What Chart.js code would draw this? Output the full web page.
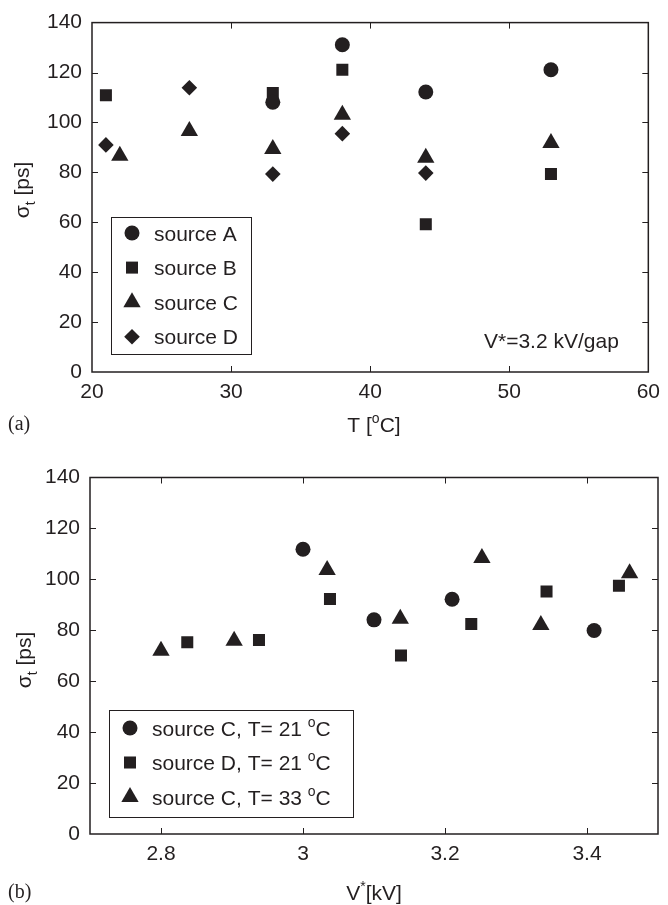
<!DOCTYPE html>
<html>
<head>
<meta charset="utf-8">
<script src="https://cdn.jsdelivr.net/npm/chart.js@4"></script>
<style>
  body { margin: 0; background: #fff; }
  #wrapA { position: absolute; left: 0; top: 0; width: 668px; height: 440px; }
  #wrapB { position: absolute; left: 0; top: 440px; width: 668px; height: 465px; }
</style>
</head>
<body>
<div id="wrapA"><canvas id="chartA"></canvas></div>
<div id="wrapB"><canvas id="chartB"></canvas></div>
<script>
// (a) sigma_t vs temperature, V* = 3.2 kV/gap
const tempA = [33, 38, 44, 53];
const sigmaA = [108.1, 131.1, 112.2, 121.1];
const tempB = [21, 33, 38, 44, 53];
const sigmaB = [110.9, 111.8, 121.1, 59.2, 79.3];
const tempC = [22, 27, 33, 38, 44, 53];
const sigmaC = [86.6, 96.6, 89.4, 103.1, 85.8, 91.8];
const tempD = [21, 27, 33, 38, 44];
const sigmaD = [91.0, 113.9, 79.3, 95.5, 79.7];
const labelsA = ['source A', 'source B', 'source C', 'source D'];
const xTicksA = [20, 30, 40, 50, 60];

// (b) sigma_t vs V*
const voltC21 = [3.0, 3.1, 3.21, 3.41];
const sigmaC21 = [111.8, 84.1, 92.2, 79.9];
const voltD21 = [2.837, 2.938, 3.038, 3.138, 3.237, 3.343, 3.445];
const sigmaD21 = [75.3, 76.2, 92.3, 70.1, 82.5, 95.2, 97.5];
const voltC33 = [2.8, 2.903, 3.034, 3.137, 3.252, 3.335, 3.46];
const sigmaC33 = [72.0, 75.9, 103.7, 84.5, 108.4, 82.1, 102.4];
const labelsB = ['source C, T= 21 ºC', 'source D, T= 21 ºC', 'source C, T= 33 ºC'];
const xTicksB = [2.8, 3, 3.2, 3.4];

const yTicks = [0, 20, 40, 60, 80, 100, 120, 140];

const INK = '#231f20';
const FONT = '"Liberation Sans", Arial, sans-serif';
const FS = 21;

const markers = {
    circle: { pointStyle: 'circle', pointRadius: 7.5 },
    rect: { pointStyle: 'rect', pointRadius: 8.5 },
    triangle: { pointStyle: 'triangle', pointRadius: 10 },
    diamond: { pointStyle: 'rectRot', pointRadius: 7.8 }
};

const toPoints = (xs, ys) => xs.map((x, i) => ({ x: x, y: ys[i] }));

const makeSet = (label, xs, ys, m) => ({
    label: label,
    data: toPoints(xs, ys),
    pointStyle: m.pointStyle,
    pointRadius: m.pointRadius,
    pointBackgroundColor: INK,
    pointBorderColor: INK,
    pointBorderWidth: 0,
    showLine: false
});

// draw text with simple sub/superscripts; parts = [[text, mode], ...]
function drawRich(ctx, x, y, parts, size, align) {
    const small = Math.round(size * 0.68);
    let total = 0;
    parts.forEach(p => {
        ctx.font = (p[1] ? small : size) + 'px ' + FONT;
        total += ctx.measureText(p[0]).width;
    });
    let cx = align === 'center' ? x - total / 2 : x;
    ctx.textAlign = 'left';
    ctx.textBaseline = 'alphabetic';
    const base = y + size * 0.36;
    parts.forEach(p => {
        ctx.font = (p[1] ? small : size) + 'px ' + FONT;
        let dy = 0;
        if (p[1] === 'sub') dy = size * 0.3;
        if (p[1] === 'sup') dy = -size * 0.42;
        ctx.fillText(p[0], cx, base + dy);
        cx += ctx.measureText(p[0]).width;
    });
}

const degParts = (s) => {
    const bits = s.split('º');
    const out = [[bits[0], null]];
    for (let i = 1; i < bits.length; i++) {
        out.push(['o', 'sup']);
        out.push([bits[i], null]);
    }
    return out;
};

const framePlugin = {
    id: 'frame',
    afterDraw(chart, args, opts) {
        const ctx = chart.ctx;
        const a = chart.chartArea;
        const xs = chart.scales.x, ys = chart.scales.y;
        ctx.save();
        ctx.strokeStyle = INK;
        ctx.fillStyle = INK;
        ctx.lineWidth = 1.5;
        ctx.strokeRect(a.left, a.top, a.right - a.left, a.bottom - a.top);
        // inward ticks on all four sides
        ctx.lineWidth = 1;
        ctx.beginPath();
        xs.ticks.forEach(t => {
            const px = Math.round(xs.getPixelForValue(t.value)) + 0.5;
            if (px <= a.left + 1 || px >= a.right - 1) return;
            ctx.moveTo(px, a.bottom); ctx.lineTo(px, a.bottom - 6);
            ctx.moveTo(px, a.top); ctx.lineTo(px, a.top + 6);
        });
        ys.ticks.forEach(t => {
            const py = Math.round(ys.getPixelForValue(t.value)) + 0.5;
            if (py <= a.top + 1 || py >= a.bottom - 1) return;
            ctx.moveTo(a.left, py); ctx.lineTo(a.left + 6, py);
            ctx.moveTo(a.right, py); ctx.lineTo(a.right - 6, py);
        });
        ctx.stroke();

        // axis titles
        drawRich(ctx, opts.xTitleX, opts.xTitleY, opts.xTitle, FS, 'center');
        ctx.save();
        ctx.translate(opts.yTitleX, opts.yTitleY);
        ctx.rotate(-Math.PI / 2);
        drawRich(ctx, 0, 0, [['σ', null], ['t', 'sub'], [' [ps]', null]], FS, 'center');
        ctx.restore();

        // panel letter
        ctx.font = '20px "Liberation Serif", "Times New Roman", serif';
        ctx.textAlign = 'left';
        ctx.textBaseline = 'middle';
        ctx.fillText(opts.panel, 8, opts.panelY);

        // annotation
        if (opts.note) {
            ctx.font = FS + 'px ' + FONT;
            ctx.textAlign = 'left';
            ctx.textBaseline = 'middle';
            ctx.fillText(opts.note, opts.noteX, opts.noteY);
        }

        // legend box
        const L = opts.legend;
        ctx.fillStyle = '#fff';
        ctx.fillRect(L.x, L.y, L.w, L.h);
        ctx.strokeStyle = INK;
        ctx.lineWidth = 1;
        ctx.strokeRect(L.x + 0.5, L.y + 0.5, L.w, L.h);
        ctx.fillStyle = INK;
        chart.data.datasets.forEach((ds, i) => {
            const cy = L.y + L.first + i * L.step;
            Chart.helpers.drawPoint(ctx, {
                pointStyle: ds.pointStyle, radius: ds.pointRadius, rotation: 0, borderWidth: 0
            }, L.x + 21, cy);
            drawRich(ctx, L.x + 43, cy, degParts(ds.label), FS, 'left');
        });
        ctx.restore();
    }
};

const baseOptions = (xmin, xmax, xticks, yAxisW, xAxisH, padTop, pluginOpts) => ({
    responsive: true,
    maintainAspectRatio: false,
    animation: false,
    layout: { padding: { top: padTop, right: 10, left: 0, bottom: 0 }, autoPadding: false },
    plugins: {
        legend: { display: false },
        tooltip: { enabled: false },
        frame: pluginOpts
    },
    scales: {
        x: {
            type: 'linear',
            min: xmin,
            max: xmax,
            afterBuildTicks: (s) => { s.ticks = xticks.map(v => ({ value: v })); },
            afterFit: (s) => { s.height = xAxisH; },
            grid: { display: false, drawTicks: false },
            border: { display: false },
            ticks: { color: INK, font: { family: FONT, size: FS }, padding: 8, maxRotation: 0,
                     callback: (v) => String(v) }
        },
        y: {
            min: 0,
            max: 140,
            afterBuildTicks: (s) => { s.ticks = yTicks.map(v => ({ value: v })); },
            afterFit: (s) => { s.width = yAxisW; },
            grid: { display: false, drawTicks: false },
            border: { display: false },
            ticks: { color: INK, font: { family: FONT, size: FS }, padding: 10 }
        }
    }
});

new Chart(document.getElementById('chartA'), {
    type: 'scatter',
    data: {
        datasets: [
            makeSet(labelsA[0], tempA, sigmaA, markers.circle),
            makeSet(labelsA[1], tempB, sigmaB, markers.rect),
            makeSet(labelsA[2], tempC, sigmaC, markers.triangle),
            makeSet(labelsA[3], tempD, sigmaD, markers.diamond)
        ]
    },
    options: baseOptions(20, 60, xTicksA, 92, 68, 14, {
        xTitle: [['T [', null], ['o', 'sup'], ['C]', null]],
        xTitleX: 374, xTitleY: 424,
        yTitleX: 21, yTitleY: 190,
        panel: '(a)', panelY: 425,
        note: 'V*=3.2 kV/gap', noteX: 484, noteY: 342,
        legend: { x: 111, y: 217, w: 140, h: 137, first: 16, step: 34.6 }
    }),
    plugins: [framePlugin]
});

new Chart(document.getElementById('chartB'), {
    type: 'scatter',
    data: {
        datasets: [
            makeSet(labelsB[0], voltC21, sigmaC21, markers.circle),
            makeSet(labelsB[1], voltD21, sigmaD21, markers.rect),
            makeSet(labelsB[2], voltC33, sigmaC33, markers.triangle)
        ]
    },
    options: baseOptions(2.7, 3.5, xTicksB, 90, 71, 37.5, {
        xTitle: [['V', null], ['*', 'sup'], ['[kV]', null]],
        xTitleX: 374, xTitleY: 452,
        yTitleX: 23, yTitleY: 220,
        panel: '(b)', panelY: 453,
        note: null,
        legend: { x: 109, y: 270, w: 244, h: 107, first: 18, step: 34.5 }
    }),
    plugins: [framePlugin]
});
</script>
</body>
</html>
